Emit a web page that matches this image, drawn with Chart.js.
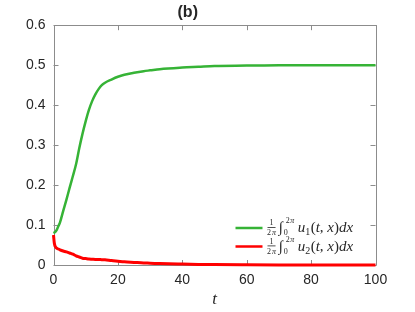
<!DOCTYPE html>
<html>
<head>
<meta charset="utf-8">
<script src="https://cdn.jsdelivr.net/npm/chart.js@4.4.1/dist/chart.umd.min.js"></script>
<style>
  html, body { margin: 0; padding: 0; background: #fff; }
</style>
</head>
<body>
<canvas id="myChart" width="415" height="312"></canvas>
<script>
// time points (t) and the two mean densities
var tValues = [0, 0.25, 0.5, 1, 1.5, 2, 3, 4, 5, 6, 7, 8, 9, 10, 11, 12, 13, 14, 15, 16, 18, 20, 22, 25, 28, 30, 33, 40, 45, 50, 60, 70, 80, 90, 100];
var u1Values = [0.080, 0.081, 0.082, 0.088, 0.097, 0.106, 0.135, 0.163, 0.193, 0.222, 0.252, 0.292, 0.328, 0.360, 0.388, 0.410, 0.427, 0.440, 0.450, 0.456, 0.464, 0.471, 0.476, 0.481, 0.485, 0.487, 0.490, 0.494, 0.496, 0.498, 0.499, 0.500, 0.500, 0.500, 0.500];
var u2Values = [0.075, 0.055, 0.047, 0.042, 0.040, 0.038, 0.035, 0.033, 0.030, 0.027, 0.023, 0.020, 0.017, 0.016, 0.015, 0.0145, 0.014, 0.0137, 0.0133, 0.013, 0.011, 0.0095, 0.008, 0.0065, 0.005, 0.0045, 0.0035, 0.0022, 0.0015, 0.001, 0.0005, 0.0002, 0.0001, 0, 0];

var xTicks = [0, 20, 40, 60, 80, 100];
var yTicks = [0, 0.1, 0.2, 0.3, 0.4, 0.5, 0.6];
var seriesIndex = ["1", "2"];
var seriesColors = ["#36b336", "#ff0000"];

var sans = '"Liberation Sans", Arial, Helvetica, sans-serif';
var serif = '"Liberation Serif", "Times New Roman", "DejaVu Serif", serif';
var textColor = "#262626";
var axisColor = "#8c8c8c";

function pts(ys) {
  return tValues.map(function (t, i) { return { x: t, y: ys[i] }; });
}

// frame with inward ticks on all four sides
var boxPlugin = {
  id: "box",
  beforeDatasetsDraw: function (chart) {
    var c = chart.ctx, a = chart.chartArea;
    var xs = chart.scales.x, ys = chart.scales.y;
    var tl = 5;
    c.save();
    c.strokeStyle = axisColor;
    c.lineWidth = 1;
    c.beginPath();
    c.rect(Math.round(a.left) + 0.5, Math.round(a.top) + 0.5, Math.round(a.right - a.left), Math.round(a.bottom - a.top));
    xTicks.forEach(function (v) {
      var px = Math.round(xs.getPixelForValue(v)) + 0.5;
      c.moveTo(px, a.bottom); c.lineTo(px, a.bottom - tl);
      c.moveTo(px, a.top); c.lineTo(px, a.top + tl);
    });
    yTicks.forEach(function (v) {
      var py = Math.round(ys.getPixelForValue(v)) + 0.5;
      c.moveTo(a.left, py); c.lineTo(a.left + tl, py);
      c.moveTo(a.right, py); c.lineTo(a.right - tl, py);
    });
    c.stroke();
    c.restore();
  }
};

// legend with the integral formulas
function drawFormula(c, x, y, sub) {
  c.fillStyle = textColor;
  c.textBaseline = "alphabetic";
  c.textAlign = "center";
  // fraction 1 / 2pi
  c.font = "8px " + serif;
  var fw = c.measureText("2π").width;
  c.fillText("1", x + fw / 2, y - 3);
  c.fillText("2", x + fw / 2 - 2.5, y + 7);
  c.font = "italic 8px " + serif;
  c.fillText("π", x + fw / 2 + 2.5, y + 7);
  c.fillRect(x, y - 1, fw, 0.8);
  x += fw + 3;
  c.textAlign = "left";
  // integral sign with limits
  c.font = "italic 15px " + serif;
  c.fillText("∫", x, y + 4);
  var iw = c.measureText("∫").width;
  c.font = "8px " + serif;
  c.fillText("0", x + iw + 1, y + 7);
  c.fillText("2", x + iw + 3, y - 5);
  c.font = "italic 8px " + serif;
  c.fillText("π", x + iw + 7.5, y - 5);
  x += iw + 15;
  // u_i(t, x)dx
  c.font = "italic 15px " + serif;
  c.fillText("u", x, y + 4);
  x += c.measureText("u").width;
  c.font = "10px " + serif;
  c.fillText(sub, x, y + 7);
  x += c.measureText(sub).width + 0.5;
  c.font = "15px " + serif;
  c.fillText("(", x, y + 4); x += c.measureText("(").width;
  c.font = "italic 15px " + serif;
  c.fillText("t", x, y + 4); x += c.measureText("t").width;
  c.font = "15px " + serif;
  c.fillText(", ", x, y + 4); x += c.measureText(", ").width;
  c.font = "italic 15px " + serif;
  c.fillText("x", x, y + 4); x += c.measureText("x").width;
  c.font = "15px " + serif;
  c.fillText(")", x, y + 4); x += c.measureText(")").width;
  c.font = "italic 15px " + serif;
  c.fillText("dx", x, y + 4);
}

var legendPlugin = {
  id: "mathLegend",
  afterDatasetsDraw: function (chart) {
    var c = chart.ctx, a = chart.chartArea;
    c.save();
    seriesIndex.forEach(function (s, i) {
      var y = a.bottom - 37 + i * 18.5;
      var x0 = a.right - 140;
      c.strokeStyle = seriesColors[i];
      c.lineWidth = 2.5;
      c.beginPath();
      c.moveTo(x0, y); c.lineTo(x0 + 27, y);
      c.stroke();
      drawFormula(c, x0 + 32, y, s);
    });
    c.restore();
  }
};

var ctx = document.getElementById("myChart").getContext("2d");
var myChart = new Chart(ctx, {
  type: "line",
  data: {
    datasets: [
      {
        data: pts(u1Values),
        borderColor: seriesColors[0],
        borderWidth: 2.5,
        pointRadius: 0,
        cubicInterpolationMode: "monotone",
        clip: 4
      },
      {
        data: pts(u2Values),
        borderColor: seriesColors[1],
        borderWidth: 3,
        pointRadius: 0,
        cubicInterpolationMode: "monotone",
        clip: 4
      }
    ]
  },
  options: {
    responsive: false,
    animation: false,
    layout: { padding: { left: 0, right: 39.5, top: 0, bottom: 0 } },
    plugins: {
      legend: { display: false },
      tooltip: { enabled: false },
      title: {
        display: true,
        text: "(b)",
        color: textColor,
        font: { family: sans, size: 16, weight: "bold" },
        padding: { top: 3, bottom: 3 }
      }
    },
    scales: {
      x: {
        type: "linear",
        min: 0,
        max: 100,
        afterFit: function (s) { s.height = 47; },
        grid: { display: false, drawTicks: false },
        border: { display: false },
        ticks: {
          stepSize: 20,
          color: textColor,
          padding: 7,
          maxRotation: 0,
          font: { family: sans, size: 14 }
        },
        title: {
          display: true,
          text: "t",
          color: textColor,
          padding: { top: 0, bottom: 2 },
          font: { family: serif, size: 17, style: "italic" }
        }
      },
      y: {
        min: 0,
        max: 0.6,
        afterFit: function (s) { s.width = 53.5; },
        grid: { display: false, drawTicks: false },
        border: { display: false },
        ticks: {
          stepSize: 0.1,
          color: textColor,
          padding: 8,
          font: { family: sans, size: 14 },
          callback: function (v) { return v === 0 ? "0" : v.toFixed(1); }
        }
      }
    }
  },
  plugins: [boxPlugin, legendPlugin]
});
</script>
</body>
</html>
